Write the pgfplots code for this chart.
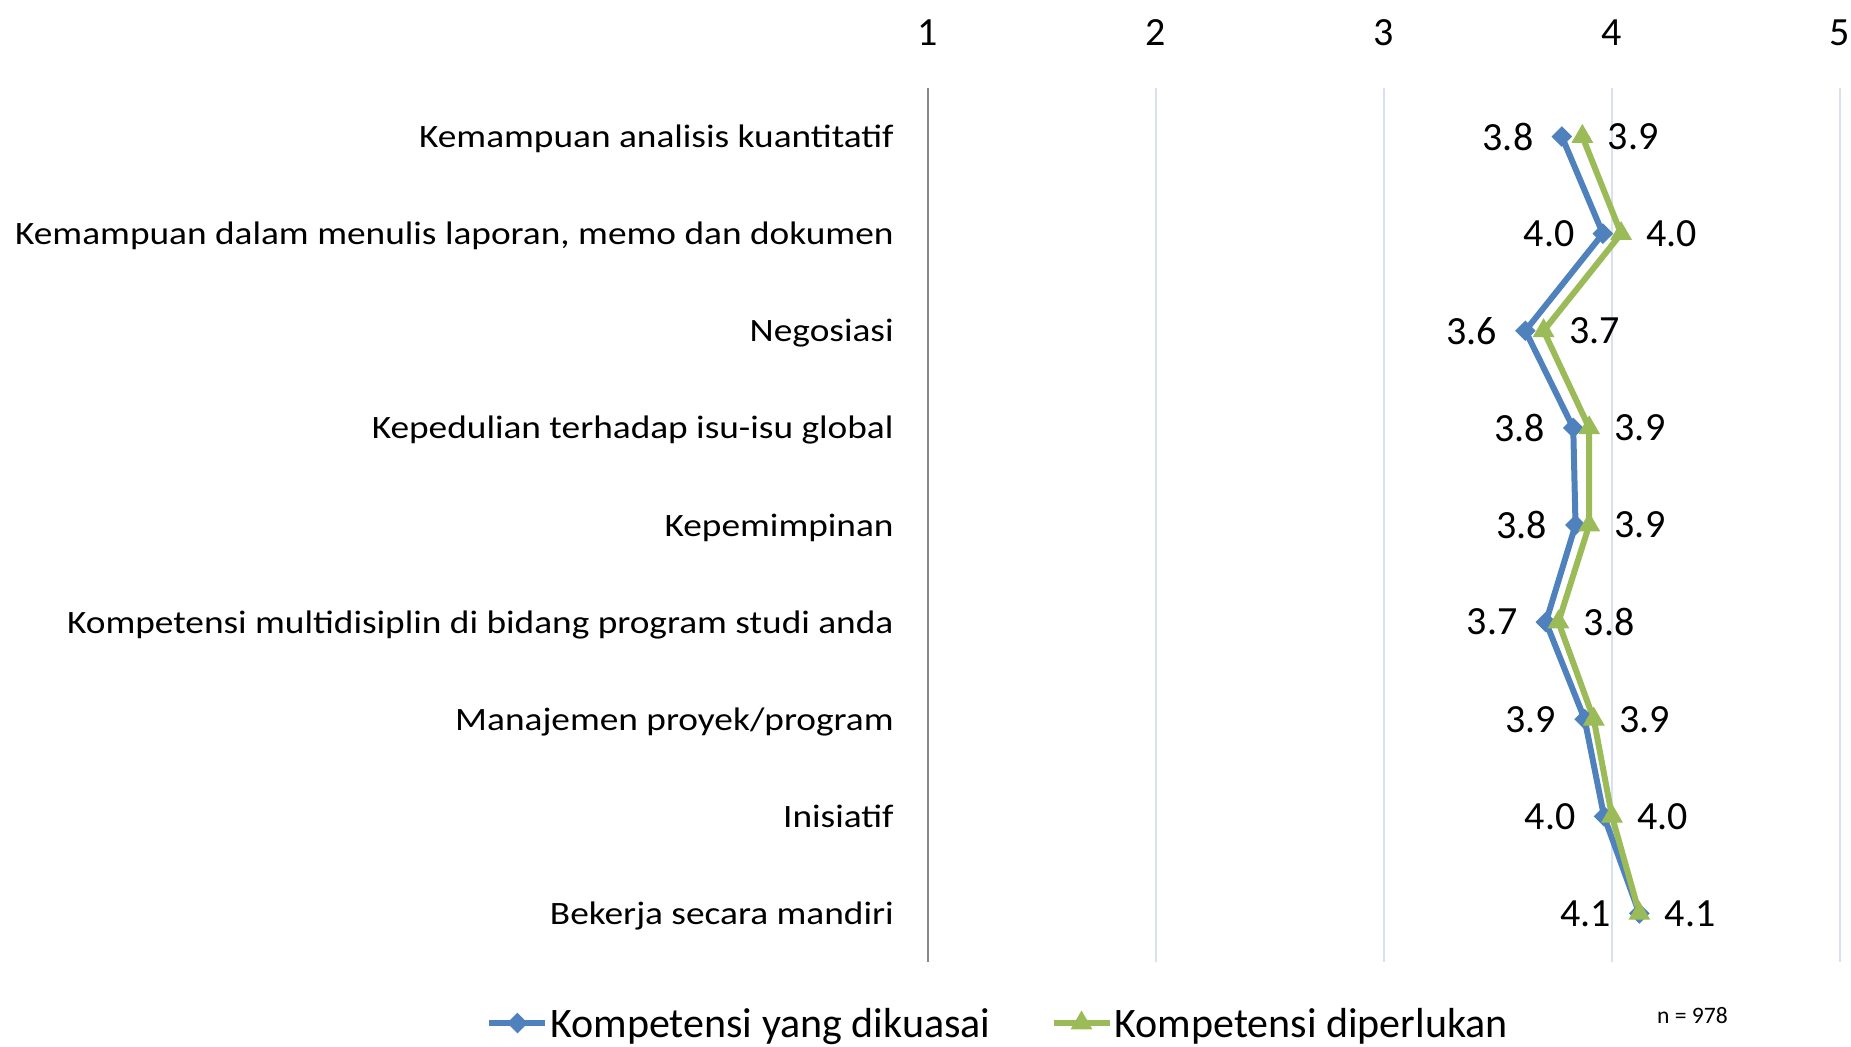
\documentclass[border=0pt]{standalone}
\usepackage{pgfplots}
\pgfplotsset{compat=1.18}
\usepackage{fontspec}
\setmainfont{Carlito}
\newfontfamily\catfont[FakeStretch=1.145]{Carlito}
\definecolor{sblue}{HTML}{4F81BD}
\definecolor{sgreen}{HTML}{9BBB59}
\definecolor{gridc}{HTML}{D9E1F0}
\definecolor{axisc}{HTML}{888888}
\begin{document}
\begin{tikzpicture}
\begin{axis}[
  at={(464pt,42.5pt)}, anchor=south west,
  width=456pt, height=437pt, scale only axis,
  xmin=1, xmax=5, ymin=0.5, ymax=9.5, y dir=reverse,
  xtick={1,2,3,4,5}, ytick={1,...,9},
  yticklabels={Kemampuan analisis kuantitatif,{Kemampuan dalam menulis laporan, memo dan dokumen},Negosiasi,Kepedulian terhadap isu-isu global,Kepemimpinan,Kompetensi multidisiplin di bidang program studi anda,Manajemen proyek/program,Inisiatif,Bekerja secara mandiri},
  xticklabel pos=right,
  xmajorgrids, grid style={gridc, line width=0.75pt},
  extra x ticks={1}, extra x tick labels={},
  extra x tick style={grid style={axisc, line width=1pt}},
  axis line style={draw=none},
  tick style={draw=none},
  /pgf/number format/assume math mode=true,
  xticklabel style={font=\fontsize{20}{24}\selectfont, anchor=base, inner sep=0pt, yshift=21.5pt},
  yticklabel style={font=\catfont\fontsize{16.3}{20}\selectfont, anchor=base east, inner sep=0pt, xshift=-17pt, yshift=-5.5pt},
  legend columns=2,
  legend style={at={(axis description cs:-0.4846,-0.087)}, anchor=south west, draw=none, fill=none, inner sep=0pt,
    font=\fontsize{21}{25}\selectfont, nodes={inner sep=0pt, text depth=0pt},
    /tikz/every odd column/.append style={column sep=1pt},
    /tikz/every even column/.append style={column sep=30pt}},
  legend image code/.code={\draw[mark repeat=2, mark phase=2, #1] plot coordinates {(0pt,0pt) (14pt,0pt) (28pt,0pt)};},
  nodes near coords={\pgfmathprintnumber[fixed,fixed zerofill,precision=1]{\pgfplotspointmeta}},
  point meta=x,
  clip=false,
]
\addplot[sblue, line width=3pt, mark=square*, mark size=3.4pt,
  mark options={rotate=45, line width=0.5pt},
  every node near coord/.append style={anchor=east, inner sep=0pt, xshift=-14pt, black, font=\fontsize{20}{24}\selectfont}]
  coordinates {(3.78,1) (3.96,2) (3.62,3) (3.83,4) (3.84,5) (3.71,6) (3.88,7) (3.965,8) (4.12,9)};
\addlegendentry{Kompetensi yang dikuasai}
\addplot[sgreen, line width=3pt, mark=triangle*, mark size=5.8pt,
  mark options={line width=0.5pt},
  every node near coord/.append style={anchor=west, inner sep=0pt, xshift=12.5pt, black, font=\fontsize{20}{24}\selectfont}]
  coordinates {(3.87,1) (4.04,2) (3.70,3) (3.90,4) (3.90,5) (3.765,6) (3.92,7) (4.00,8) (4.12,9)};
\addlegendentry{Kompetensi diperlukan}
\node[anchor=base west, inner sep=0pt, font=\fontsize{11.8}{14}\selectfont] at (axis description cs:0.799,-0.0698) {n = 978};
\end{axis}
\pgfresetboundingbox
\path[use as bounding box] (0,0) rectangle (925.5pt,523.5pt);
\end{tikzpicture}
\end{document}
